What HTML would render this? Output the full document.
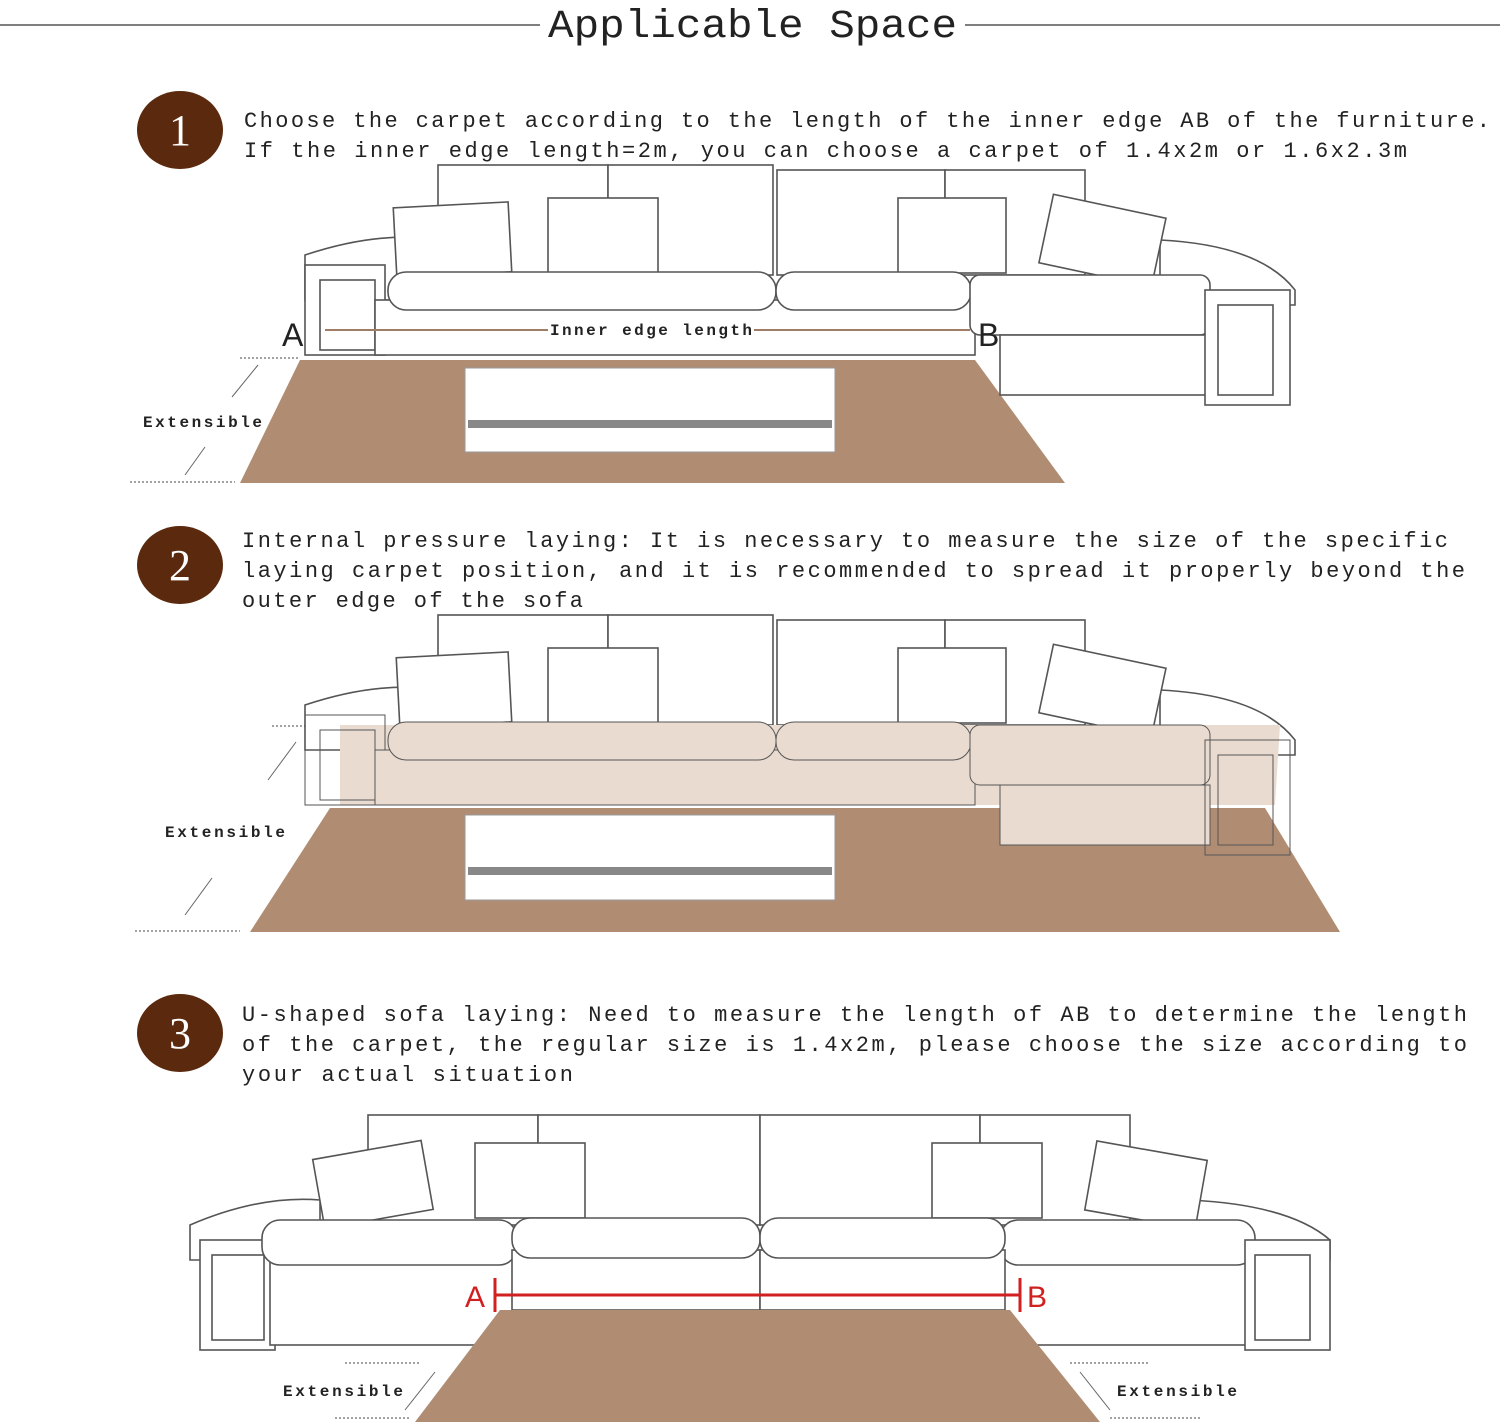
<!DOCTYPE html>
<html><head><meta charset="utf-8"><style>
body{margin:0;background:#fff;}
svg{display:block}
.t{font-family:"Liberation Mono",monospace;font-size:22px;fill:#222;}
.s{fill:#fff;stroke:#555;stroke-width:1.6}
.n{font-family:"Liberation Serif",serif;font-size:44px;fill:#fff;text-anchor:middle}
.e{font-family:"Liberation Mono",monospace;font-size:16px;font-weight:bold;fill:#222}
</style></head><body>
<svg width="1500" height="1428" viewBox="0 0 1500 1428">
<line x1="0" y1="25" x2="540" y2="25" stroke="#555" stroke-width="1.5"/>
<line x1="965" y1="25" x2="1500" y2="25" stroke="#555" stroke-width="1.5"/>
<text x="548" y="37" font-family="Liberation Mono,monospace" font-size="40" fill="#222" textLength="409" lengthAdjust="spacingAndGlyphs">Applicable Space</text>

<!-- Section 1 -->
<ellipse cx="180" cy="130" rx="43" ry="39" fill="#5b2a0e"/><text class="n" x="180" y="145">1</text>
<text class="t" x="244" y="127" textLength="1246">Choose the carpet according to the length of the inner edge AB of the furniture.</text>
<text class="t" x="244" y="157" textLength="1163">If the inner edge length=2m, you can choose a carpet of 1.4x2m or 1.6x2.3m</text>
<polygon points="300,360 975,360 1065,483 240,483" fill="#b08d72"/>
<g>
<rect class="s" x="438" y="165" width="170" height="110"/><rect class="s" x="608" y="165" width="165" height="110"/>
<rect class="s" x="777" y="170" width="168" height="105"/><rect class="s" x="945" y="170" width="140" height="105"/>
<path class="s" d="M305,255 Q380,230 440,240 L440,300 L305,300 Z"/>
<path class="s" d="M1160,240 Q1260,245 1295,290 L1295,305 L1160,305 Z"/>
<rect class="s" x="395" y="205" width="115" height="70" transform="rotate(-3 450 240)"/>
<rect class="s" x="548" y="198" width="110" height="75"/>
<rect class="s" x="898" y="198" width="108" height="75"/>
<rect class="s" x="1045" y="205" width="115" height="70" transform="rotate(12 1100 240)"/>
<rect class="s" x="305" y="265" width="80" height="90"/><rect class="s" x="320" y="280" width="55" height="70"/>
<rect class="s" x="375" y="300" width="600" height="55"/>
<rect class="s" x="388" y="272" width="388" height="38" rx="18"/><rect class="s" x="776" y="272" width="195" height="38" rx="18"/>
<rect class="s" x="970" y="275" width="240" height="60" rx="10"/>
<rect class="s" x="1000" y="335" width="210" height="60"/>
<rect class="s" x="1205" y="290" width="85" height="115"/><rect class="s" x="1218" y="305" width="55" height="90"/>
</g>
<rect x="465" y="368" width="370" height="84" fill="#fff" stroke="#999"/>
<rect x="468" y="420" width="364" height="8" fill="#888"/>
<line x1="325" y1="330" x2="970" y2="330" stroke="#a07d66" stroke-width="2"/>
<text x="282" y="346" font-family="Liberation Sans,sans-serif" font-size="32" fill="#222">A</text>
<text x="978" y="346" font-family="Liberation Sans,sans-serif" font-size="32" fill="#222">B</text>
<rect x="548" y="320" width="206" height="20" fill="#fff"/>
<text class="e" x="550" y="335" textLength="202">Inner edge length</text>
<line x1="240" y1="358" x2="300" y2="358" stroke="#444" stroke-dasharray="2,2"/>
<line x1="130" y1="482" x2="235" y2="482" stroke="#444" stroke-dasharray="2,2"/>
<line x1="232" y1="397" x2="258" y2="365" stroke="#666"/><line x1="205" y1="447" x2="185" y2="475" stroke="#666"/>
<text class="e" x="143" y="427" textLength="119">Extensible</text>

<!-- Section 2 -->
<ellipse cx="180" cy="565" rx="43" ry="39" fill="#5b2a0e"/><text class="n" x="180" y="580">2</text>
<text class="t" x="242" y="547" textLength="1206">Internal pressure laying: It is necessary to measure the size of the specific</text>
<text class="t" x="242" y="577" textLength="1223">laying carpet position, and it is recommended to spread it properly beyond the</text>
<text class="t" x="242" y="607" textLength="341">outer edge of the sofa</text>
<polygon points="330,808 1265,808 1340,932 250,932" fill="#b08d72"/>
<g>
<rect class="s" x="438" y="615" width="170" height="110"/><rect class="s" x="608" y="615" width="165" height="110"/>
<rect class="s" x="777" y="620" width="168" height="105"/><rect class="s" x="945" y="620" width="140" height="105"/>
<path class="s" d="M305,705 Q380,680 440,690 L440,750 L305,750 Z"/>
<path class="s" d="M1160,690 Q1260,695 1295,740 L1295,755 L1160,755 Z"/>
<rect class="s" x="398" y="655" width="112" height="70" transform="rotate(-3 450 690)"/>
<rect class="s" x="548" y="648" width="110" height="75"/>
<rect class="s" x="898" y="648" width="108" height="75"/>
<rect class="s" x="1045" y="655" width="115" height="70" transform="rotate(12 1100 690)"/>
<polygon points="340,725 1280,725 1275,805 340,805" fill="#eadbd0"/>
<rect x="305" y="715" width="80" height="90" fill="none" stroke="#555"/><rect x="320" y="730" width="55" height="70" fill="none" stroke="#555"/>
<rect x="375" y="750" width="600" height="55" fill="#eadbd0" stroke="#555"/>
<rect x="388" y="722" width="388" height="38" rx="18" fill="#eadbd0" stroke="#555"/><rect x="776" y="722" width="195" height="38" rx="18" fill="#eadbd0" stroke="#555"/>
<rect x="970" y="725" width="240" height="60" rx="10" fill="#eadbd0" stroke="#555"/>
<rect x="1000" y="785" width="210" height="60" fill="#eadbd0" stroke="#555"/>
<rect x="1205" y="740" width="85" height="115" fill="none" stroke="#555"/><rect x="1218" y="755" width="55" height="90" fill="none" stroke="#555"/>
</g>
<rect x="465" y="815" width="370" height="85" fill="#fff" stroke="#999"/>
<rect x="468" y="867" width="364" height="8" fill="#888"/>
<line x1="272" y1="726" x2="305" y2="726" stroke="#444" stroke-dasharray="2,2"/>
<line x1="135" y1="931" x2="240" y2="931" stroke="#444" stroke-dasharray="2,2"/>
<line x1="268" y1="780" x2="296" y2="742" stroke="#666"/><line x1="212" y1="878" x2="185" y2="915" stroke="#666"/>
<text class="e" x="165" y="837" textLength="120">Extensible</text>

<!-- Section 3 -->
<ellipse cx="180" cy="1033" rx="43" ry="39" fill="#5b2a0e"/><text class="n" x="180" y="1048">3</text>
<text class="t" x="242" y="1021" textLength="1225">U-shaped sofa laying: Need to measure the length of AB to determine the length</text>
<text class="t" x="242" y="1051" textLength="1225">of the carpet, the regular size is 1.4x2m, please choose the size according to</text>
<text class="t" x="242" y="1081" textLength="331">your actual situation</text>
<g>
<rect class="s" x="368" y="1115" width="170" height="110"/><rect class="s" x="538" y="1115" width="222" height="110"/>
<rect class="s" x="760" y="1115" width="220" height="110"/><rect class="s" x="980" y="1115" width="150" height="110"/>
<path class="s" d="M190,1225 Q260,1195 320,1200 L320,1260 L190,1260 Z"/>
<path class="s" d="M1190,1200 Q1290,1205 1330,1240 L1330,1260 L1190,1260 Z"/>
<rect class="s" x="318" y="1150" width="110" height="70" transform="rotate(-10 370 1185)"/>
<rect class="s" x="475" y="1143" width="110" height="75"/>
<rect class="s" x="932" y="1143" width="110" height="75"/>
<rect class="s" x="1090" y="1150" width="112" height="70" transform="rotate(10 1145 1185)"/>
<rect class="s" x="200" y="1240" width="75" height="110"/><rect class="s" x="212" y="1255" width="52" height="85"/>
<rect class="s" x="270" y="1260" width="245" height="85"/><rect class="s" x="262" y="1220" width="255" height="45" rx="18"/>
<rect class="s" x="1000" y="1260" width="255" height="85"/><rect class="s" x="1000" y="1220" width="255" height="45" rx="18"/>
<rect class="s" x="1245" y="1240" width="85" height="110"/><rect class="s" x="1255" y="1255" width="55" height="85"/>
<rect class="s" x="512" y="1250" width="248" height="60"/><rect class="s" x="760" y="1250" width="245" height="60"/>
<rect class="s" x="512" y="1218" width="248" height="40" rx="18"/><rect class="s" x="760" y="1218" width="245" height="40" rx="18"/>
</g>
<polygon points="500,1310 1010,1310 1100,1422 415,1422" fill="#b08d72"/>
<line x1="495" y1="1295" x2="1020" y2="1295" stroke="#d02020" stroke-width="3"/>
<line x1="495" y1="1278" x2="495" y2="1312" stroke="#d02020" stroke-width="3"/>
<line x1="1020" y1="1278" x2="1020" y2="1312" stroke="#d02020" stroke-width="3"/>
<text x="465" y="1307" font-family="Liberation Sans,sans-serif" font-size="30" fill="#d02020">A</text>
<text x="1027" y="1307" font-family="Liberation Sans,sans-serif" font-size="30" fill="#d02020">B</text>
<line x1="345" y1="1363" x2="420" y2="1363" stroke="#444" stroke-dasharray="2,2"/>
<line x1="335" y1="1418" x2="410" y2="1418" stroke="#444" stroke-dasharray="2,2"/>
<line x1="1070" y1="1363" x2="1150" y2="1363" stroke="#444" stroke-dasharray="2,2"/>
<line x1="1110" y1="1418" x2="1200" y2="1418" stroke="#444" stroke-dasharray="2,2"/>
<line x1="435" y1="1372" x2="405" y2="1410" stroke="#666"/><line x1="1080" y1="1372" x2="1110" y2="1410" stroke="#666"/>
<text class="e" x="283" y="1396" textLength="120">Extensible</text>
<text class="e" x="1117" y="1396" textLength="120">Extensible</text>
</svg>
</body></html>
